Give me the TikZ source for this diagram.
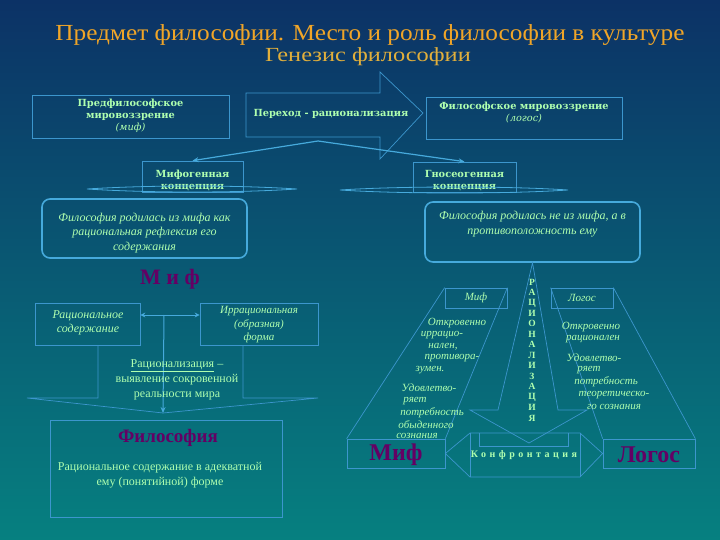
\documentclass[tikz,border=0pt]{standalone}
\usepackage{fontspec}
\usepackage{graphicx}
\setmainfont{Liberation Serif}
\newfontfamily\dvs{DejaVu Serif}
\usetikzlibrary{arrows.meta}
\definecolor{bgtop}{RGB}{12,50,102}
\definecolor{bgbot}{RGB}{6,128,128}
\definecolor{ln}{RGB}{60,150,205}
\definecolor{lnb}{RGB}{70,170,220}
\definecolor{grn}{RGB}{175,255,175}
\definecolor{ttl}{RGB}{240,165,40}
\definecolor{ttlb}{RGB}{225,175,60}
\definecolor{prp}{RGB}{100,0,100}
\tikzset{
  box/.style={draw=ln, line width=0.7pt, inner sep=0pt},
  rbox/.style={draw=lnb, line width=1.6pt, rounded corners=8pt, inner sep=0pt},
  lbl/.style={text=grn, font=\dvs\bfseries\fontsize{9.8}{12}\selectfont, align=center, inner sep=0pt},
  itl/.style={text=grn, font=\itshape\fontsize{12}{14.5}\selectfont, align=center, inner sep=0pt},
  sit/.style={text=grn, font=\itshape\fontsize{11}{12}\selectfont, inner sep=0pt},
  reg/.style={text=grn, font=\fontsize{12}{15}\selectfont, align=center, inner sep=0pt},
  big/.style={text=prp, font=\bfseries\fontsize{22}{24}\selectfont, inner sep=0pt},
  conn/.style={draw=ln, line width=0.7pt},
  arr/.style={draw=lnb, line width=1.2pt, -{Stealth[length=6pt,width=5pt]}}
}
\begin{document}
\begin{tikzpicture}[x=1pt,y=-1pt]
\shade[top color=bgtop,bottom color=bgbot] (0,0) rectangle (720,540);
\useasboundingbox (0,0) rectangle (720,540);

% title
\node[text=ttl, font=\fontsize{23}{26}\selectfont, inner sep=0pt] (t1) at (370,35) {\scalebox{1.1}[1]{Предмет философии. Место и роль философии в культуре}};
\node[text=ttlb, font=\fontsize{20}{22}\selectfont, inner sep=0pt] (t2) at (368,57) {\scalebox{1.22}[1]{Генезис философии}};

% top row
\node[box, minimum width=197, minimum height=43] (pre) at (130.5,116.5) {};
\node[lbl] (pretx) at (130.5,116) {Предфилософское\\мировоззрение\\{\itshape\mdseries (миф)}};

\draw[conn] (246,93) -- (380,93) -- (380,72) -- (423,113) -- (380,159) -- (380,137) -- (246,137) -- cycle;
\node[lbl] (trtx) at (331,114) {Переход - рационализация};

\node[box, minimum width=196, minimum height=42] (log) at (524,118) {};
\node[lbl] (logtx) at (524,113) {Философское мировоззрение\\{\itshape\mdseries (логос)}};

% concepts
\coordinate (apex) at (318,141);
\node[box, minimum width=101, minimum height=31] (mifc) at (192.5,176.5) {};
\node[lbl] (mifctx) at (192.5,180) {Мифогенная\\концепция};
\node[box, minimum width=103, minimum height=30] (gnos) at (464.5,177) {};
\node[lbl] (gnostx) at (464.5,181) {Гносеогенная\\концепция};
\draw[arr] (apex) -- (mifc.north);
\draw[arr] (apex) -- (gnos.north);
\draw[draw=lnb, line width=0.8pt] (87,189) .. controls (150,185) and (235,185) .. (297,189) .. controls (235,193) and (150,193) .. (87,189);
\draw[draw=lnb, line width=0.8pt] (340,190) .. controls (400,186) and (510,186) .. (568,190) .. controls (510,194) and (400,194) .. (340,190);

% rounded boxes
\node[rbox, minimum width=205, minimum height=59] (lr) at (144.5,228.5) {};
\node[itl] (lrtx) at (144.5,233) {Философия родилась из мифа как\\рациональная рефлексия его\\содержания};
\node[rbox, minimum width=215, minimum height=60] (rr) at (532.5,232) {};
\node[itl] (rrtx) at (532.5,224) {Философия родилась не из мифа, а в\\противоположность ему};

% left part
\node[big] (mif1) at (170,279) {М и ф};
\node[box, minimum width=105, minimum height=42] (rat) at (87.5,324) {};
\node[itl] (rattx) at (88,323) {Рациональное\\содержание};
\node[box, minimum width=118, minimum height=42] (irr) at (259,324) {};
\node[itl, font=\itshape\fontsize{11}{13.5}\selectfont] (irrtx) at (259,325) {Иррациональная\\(образная)\\форма};
\draw[draw=lnb, line width=1pt, {Stealth[length=5pt,width=5pt]}-{Stealth[length=5pt,width=5pt]}] ([yshift=9pt]rat.east) -- ([yshift=9pt]irr.west);
\coordinate (mid) at (164,315);
\coordinate (ra) at (163,413);
\draw[conn] (98,345) -- (98,398) -- (27,398) -- (ra) -- (318,398) -- (243,398) -- (243,345);
\draw[draw=lnb, line width=1pt, -{Stealth[length=6pt,width=5pt]}] (mid) -- (ra);
\node[reg] (ratio) at (177,380) {\underline{Рационализация} –\\выявление сокровенной\\реальности мира};

\node[box, minimum width=232, minimum height=97] (phil) at (166,468.5) {};
\node[big, font=\bfseries\fontsize{19}{22}\selectfont] (philh) at (168,438) {Философия};
\node[reg] (philtx) at (160,475) {Рациональное содержание в адекватной\\ему (понятийной) форме};

% right part
\node[box, minimum width=62, minimum height=20] (sm) at (476,298) {};
\node[sit] (smtx) at (476,298) {Миф};
\node[box, minimum width=62, minimum height=20] (sl) at (582,298) {};
\node[sit] (sltx) at (582,298) {Логос};
\node[box, minimum width=98, minimum height=29] (bm) at (396,453.5) {};
\node[big, font=\bfseries\fontsize{24}{26}\selectfont] (bmtx) at (396,455) {Миф};
\node[box, minimum width=92, minimum height=29] (bl) at (649,453.5) {};
\node[big, font=\bfseries\fontsize{24}{26}\selectfont] (bltx) at (649,455) {Логос};

\draw[conn] (sm.north west) -- (bm.north west);
\draw[conn] (sm.north east) -- (bm.north east);
\draw[conn] (sl.north west) -- (bl.north west);
\draw[conn] (sl.north east) -- (bl.north east);

\draw[conn] (rr.south) -- (498,410) -- (470,410) -- (529,443) -- (587,410) -- (558,410) -- cycle;
\draw[conn] (bm.east) -- (470,433) -- (580,433) -- (bl.west) -- (580,477) -- (470,477) -- cycle;
\draw[conn] (470,433) -- (470,477) (580,433) -- (580,477);
\draw[conn] (479,433) -- (479,446) -- (568,446) -- (568,433);
\node[text=grn, font=\bfseries\fontsize{10}{12}\selectfont\addfontfeature{LetterSpace=35}, inner sep=0pt] (conf) at (524,455) {Конфронтация};

\foreach \l [count=\i from 0] in {Р,А,Ц,И,О,Н,А,Л,И,З,А,Ц,И,Я}
  \node[text=grn, font=\bfseries\fontsize{9.5}{10}\selectfont, inner sep=0pt] (v\i) at (532,{282+10.46*\i}) {\l};

% left column texts
\node[sit] (l1) at (457,323) {Откровенно};
\node[sit] (l2) at (442,335) {иррацио-};
\node[sit] (l3) at (443,347) {нален,};
\node[sit] (l4) at (452,358) {противора-};
\node[sit] (l5) at (430,370) {зумен.};
\node[sit] (l6) at (429,388) {Удовлетво-};
\node[sit] (l7) at (415,401) {ряет};
\node[sit] (l8) at (432,413) {потребность};
\node[sit] (l9) at (426,425) {обыденного};
\node[sit] (l10) at (417,436) {сознания};
% right column texts
\node[sit] (r1) at (591,327) {Откровенно};
\node[sit] (r2) at (593,339) {рационален};
\node[sit] (r3) at (594,358) {Удовлетво-};
\node[sit] (r4) at (589,370) {ряет};
\node[sit] (r5) at (606,382) {потребность};
\node[sit] (r6) at (614,395) {теоретическо-};
\node[sit] (r7) at (614,407) {го сознания};
\end{tikzpicture}
\end{document}
